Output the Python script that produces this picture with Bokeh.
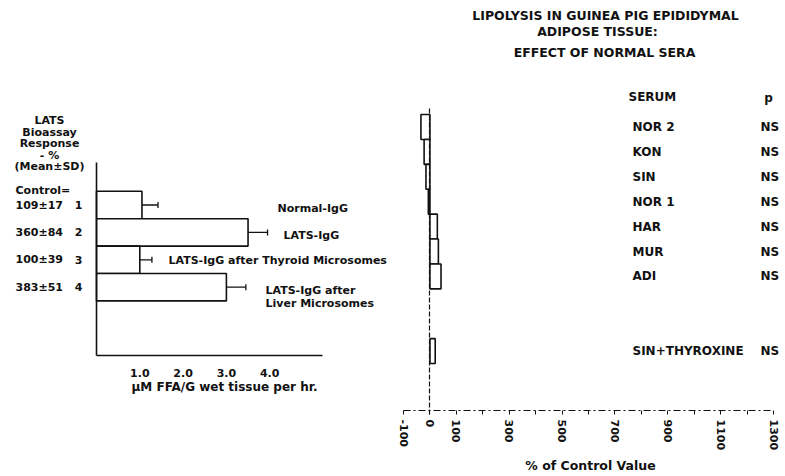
import math
from bokeh.plotting import figure
from bokeh.models import (Range1d, FixedTicker, ColumnDataSource, Whisker, TeeHead,
                          Label, LinearAxis)
from bokeh.embed import file_html
from bokeh.resources import INLINE

# ---------------- data ----------------
# Left panel: LATS-IgG experiment (uM FFA / g wet tissue per hr)
lats_groups = [1, 2, 3, 4]
lats_control = ["109±17", "360±84", "100±39", "383±51"]
lats_names = ["Normal-IgG", "LATS-IgG", "LATS-IgG after Thyroid Microsomes",
              "LATS-IgG after", "Liver Microsomes"]
ffa_mean = [1.05, 3.5, 1.0, 3.0]
ffa_sd_low = [0.7, 3.05, 0.75, 2.55]
ffa_sd_high = [1.42, 3.95, 1.28, 3.45]
ffa_ticks = [1, 2, 3, 4]
ffa_tick_labels = ["1.0", "2.0", "3.0", "4.0"]

# Right panel: effect of normal sera (% of control value)
serum_names = ["NOR 2", "KON", "SIN", "NOR 1", "HAR", "MUR", "ADI", "SIN+THYROXINE"]
serum_rows = [0, 1, 2, 3, 4, 5, 6, 9]
pct_of_control = [-34, -22, -15, -6, 28, 32, 42, 20]
p_values = ["NS", "NS", "NS", "NS", "NS", "NS", "NS", "NS"]
pct_ticks = [-100, 0, 100, 200, 300, 400, 500, 600, 700, 800, 900, 1000, 1100, 1200, 1300]
pct_labelled = [-100, 0, 100, 300, 500, 700, 900, 1100, 1300]

FONT = "DejaVu Sans"
INK = "#111111"
W, H = 785, 476

# ---- pixel <-> data helpers (frame covers the whole canvas) ----
L_XPX = 43.3   # px per uM unit, zero at page x=96
L_YPX = 27.4   # px per bar, bar 1 centred at page y=204.5


def lx(px):
    return (px - 96) / L_XPX


def ly(py):
    return 1 + (py - 204.5) / L_YPX


R_X0PX, R_X1PX = 403, 773   # page px of -100 % and 1300 %
R_ROW0, R_ROWPX = 126.5, 24.9


def rx(px):
    return -100 + (px - R_X0PX) * 1400 / (R_X1PX - R_X0PX)


def ry(py):
    return (py - R_ROW0) / R_ROWPX


p = figure(width=W, height=H,
           x_range=Range1d(lx(0), lx(W)), y_range=Range1d(ly(H), ly(0)),
           x_axis_type=None, y_axis_type=None,
           output_backend="svg", toolbar_location=None,
           min_border=0, min_border_left=0, min_border_right=0,
           min_border_top=0, min_border_bottom=0)
p.extra_x_ranges = {"pct": Range1d(rx(0), rx(W))}
p.extra_y_ranges = {"row": Range1d(ry(H), ry(0))}
p.outline_line_color = None
p.background_fill_color = "white"
p.border_fill_color = "white"


def add_text(x, y, text, align="left", size="11px", xr="default", yr="default"):
    p.add_layout(Label(x=x, y=y, text=text, text_font=FONT, text_font_size=size,
                       text_font_style="bold", text_align=align, text_baseline="middle",
                       text_color=INK, x_range_name=xr, y_range_name=yr))


def style_axis(ax):
    ax.axis_line_color = INK
    ax.major_tick_line_color = INK
    ax.minor_tick_line_color = None
    ax.major_label_text_font = FONT
    ax.major_label_text_font_size = "11px"
    ax.major_label_text_font_style = "bold"
    ax.major_label_text_color = INK


# ---------------- left panel ----------------
p.hbar(y=lats_groups, left=0, right=ffa_mean, height=1.0,
       fill_color="white", line_color=INK, line_width=1.6)
wsrc = ColumnDataSource(dict(y=lats_groups, lower=ffa_sd_low, upper=ffa_sd_high))
p.add_layout(Whisker(source=wsrc, base="y", lower="lower", upper="upper",
                     dimension="width", line_color=INK, line_width=1.3,
                     lower_head=TeeHead(size=6, line_color=INK, line_width=1.3),
                     upper_head=TeeHead(size=6, line_color=INK, line_width=1.3)))

xa = LinearAxis(ticker=FixedTicker(ticks=ffa_ticks), fixed_location=ly(355),
                bounds=(0, lx(322)))
style_axis(xa)
xa.major_label_overrides = {t: l for t, l in zip(ffa_ticks, ffa_tick_labels)}
xa.major_tick_line_color = None
xa.axis_line_width = 1.6
xa.major_label_standoff = 7
p.add_layout(xa, "below")

ya = LinearAxis(ticker=FixedTicker(ticks=lats_groups), fixed_location=0,
                bounds=(ly(162), ly(355)))
style_axis(ya)
ya.major_tick_line_color = None
ya.axis_line_width = 1.6
ya.major_label_standoff = 8
p.add_layout(ya, "left")

add_text(lx(224), ly(386), "μM FFA/G wet tissue per hr.", align="center", size="12px")
for i, t in enumerate(["LATS", "Bioassay", "Response", "- %", "(Mean±SD)"]):
    add_text(lx(49), ly(120 + i * 11.5), t, align="center")
add_text(lx(15), ly(190), "Control=")
for g, c in zip(lats_groups, lats_control):
    add_text(lx(15), g, c)

add_text(lx(277), ly(208), lats_names[0])
add_text(lx(283), ly(235), lats_names[1])
add_text(lx(168), ly(260), lats_names[2])
add_text(lx(265), ly(290), lats_names[3])
add_text(lx(265), ly(303), lats_names[4])

# ---------------- right panel ----------------
p.hbar(y=serum_rows, left=0, right=pct_of_control, height=1.0,
       fill_color="white", line_color=INK, line_width=1.6,
       x_range_name="pct", y_range_name="row")

zero_line = LinearAxis(x_range_name="pct", y_range_name="row", fixed_location=0,
                       ticker=FixedTicker(ticks=[]), bounds=(ry(414), ry(108)))
style_axis(zero_line)
zero_line.axis_line_dash = "5 2"
zero_line.axis_line_width = 1.2
p.add_layout(zero_line, "left")

ra = LinearAxis(x_range_name="pct", y_range_name="row", fixed_location=ry(410),
                ticker=FixedTicker(ticks=pct_ticks), bounds=(-100, 1300))
style_axis(ra)
ra.major_label_overrides = {t: (str(t) if t in pct_labelled else "") for t in pct_ticks}
ra.major_label_orientation = -math.pi / 2
ra.major_tick_out = 4
ra.major_tick_in = 0
ra.axis_line_width = 1.2
ra.axis_line_dash = "7 3 2 3"
ra.major_label_standoff = 5
p.add_layout(ra, "below")

RK = dict(xr="pct", yr="row")
add_text(rx(590), ry(465), "% of Control Value", align="center", size="12.5px", **RK)
add_text(rx(605), ry(15), "LIPOLYSIS IN GUINEA PIG EPIDIDYMAL", align="center", size="12.5px", **RK)
add_text(rx(597), ry(31), "ADIPOSE TISSUE:", align="center", size="12.5px", **RK)
add_text(rx(604), ry(52), "EFFECT OF NORMAL SERA", align="center", size="12.5px", **RK)
add_text(rx(628), ry(96), "SERUM", size="12px", **RK)
add_text(rx(768), ry(97), "p", align="center", size="12px", **RK)
for r, name, pv in zip(serum_rows, serum_names, p_values):
    add_text(rx(632), r, name, size="12px", **RK)
    add_text(rx(760), r, pv, size="12px", **RK)

open("out.html", "w").write(file_html(p, INLINE))
